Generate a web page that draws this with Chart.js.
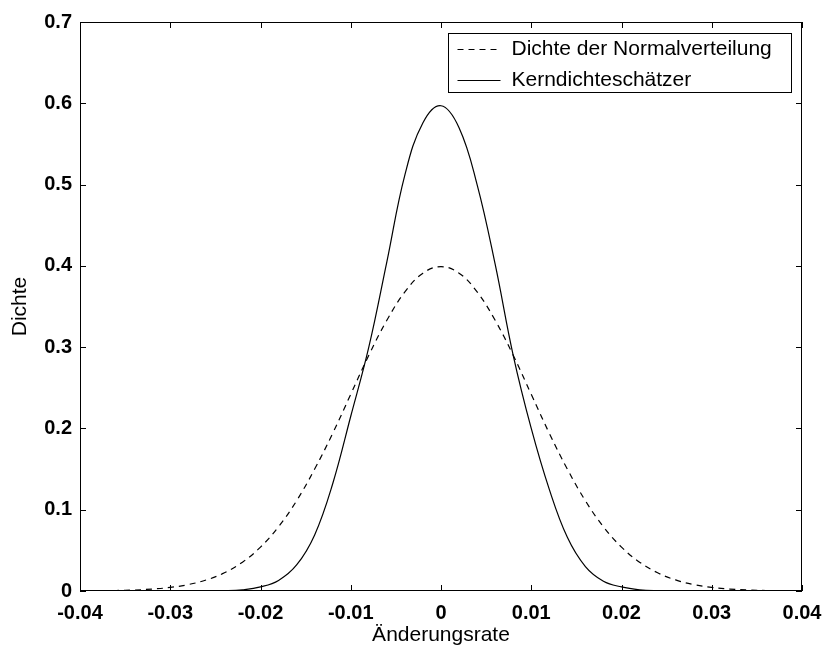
<!DOCTYPE html>
<html><head><meta charset="utf-8">
<script src="https://cdn.jsdelivr.net/npm/chart.js@4"></script>
<style>html,body{margin:0;padding:0;background:#fff}</style>
</head><body>
<canvas id="c" width="822" height="648"></canvas>
<script>
const xValues = [-0.040,-0.038,-0.036,-0.034,-0.032,-0.030,-0.028,-0.026,-0.024,-0.022,-0.020,-0.018,-0.016,-0.014,-0.012,-0.010,-0.008,-0.006,-0.004,-0.002,0,
  0.002,0.004,0.006,0.008,0.010,0.012,0.014,0.016,0.018,0.020,0.022,0.024,0.026,0.028,0.030,0.032,0.034,0.036,0.038,0.040];
const normalDensity = [0.0001,0.0003,0.0006,0.0012,0.0024,0.0044,0.0079,0.0136,0.0224,0.0355,0.054,0.079,0.111,0.150,0.194,0.242,0.290,0.333,0.368,0.391,0.399,
  0.391,0.368,0.333,0.290,0.242,0.194,0.150,0.111,0.079,0.054,0.0355,0.0224,0.0136,0.0079,0.0044,0.0024,0.0012,0.0006,0.0003,0.0001];
const kernelDensity = [0,0,0,0,0,0,0,0,0.0003,0.0015,0.005,0.013,0.032,0.069,0.132,0.215,0.300,0.405,0.512,0.576,0.597,
  0.570,0.500,0.402,0.290,0.200,0.125,0.066,0.030,0.012,0.005,0.0015,0.0003,0,0,0,0,0,0,0,0];
const xTickValues = [-0.04,-0.03,-0.02,-0.01,0,0.01,0.02,0.03,0.04];
const xTickLabels = ['-0.04','-0.03','-0.02','-0.01','0','0.01','0.02','0.03','0.04'];
const yTickValues = [0,0.1,0.2,0.3,0.4,0.5,0.6,0.7];
const yTickLabels = ['0','0.1','0.2','0.3','0.4','0.5','0.6','0.7'];
const seriesLabels = ['Dichte der Normalverteilung','Kerndichteschätzer'];
const axisTitles = {x:'Änderungsrate', y:'Dichte'};

const FONT = '"Liberation Sans", Arial, sans-serif';

const framePlugin = {
  id:'frame',
  afterDatasetsDraw(chart){
    const {ctx, chartArea:a, scales:{x,y}} = chart;
    ctx.save();
    ctx.strokeStyle='#000'; ctx.lineWidth=1; ctx.setLineDash([]);
    ctx.strokeRect(Math.round(a.left)+0.5, Math.round(a.top)+0.5, Math.round(a.right-a.left)-1, Math.round(a.bottom-a.top)-1);
    const L=6;
    ctx.beginPath();
    xTickValues.forEach(v=>{
      const px=Math.round(x.getPixelForValue(v))+0.5;
      ctx.moveTo(px,a.bottom); ctx.lineTo(px,a.bottom-L);
      ctx.moveTo(px,a.top); ctx.lineTo(px,a.top+L);
    });
    yTickValues.forEach(v=>{
      const py=Math.round(y.getPixelForValue(v))+0.5;
      ctx.moveTo(a.left,py); ctx.lineTo(a.left+L,py);
      ctx.moveTo(a.right,py); ctx.lineTo(a.right-L,py);
    });
    ctx.stroke();
    // legend
    const bw=343, bh=59;
    const bx=Math.round(a.right-11-bw)+0.5, by=Math.round(a.top+11)+0.5;
    ctx.fillStyle='#fff';
    ctx.fillRect(bx,by,bw,bh);
    ctx.strokeRect(bx,by,bw,bh);
    ctx.font='21px '+FONT;
    ctx.textBaseline='middle'; ctx.textAlign='left';
    ctx.fillStyle='#000';
    chart.data.datasets.forEach((ds,i)=>{
      const ry = by + 15 + i*31;
      ctx.beginPath();
      ctx.setLineDash(ds.borderDash||[]);
      ctx.moveTo(bx+9, Math.round(ry)+0.5); ctx.lineTo(bx+52, Math.round(ry)+0.5);
      ctx.stroke();
      ctx.setLineDash([]);
      ctx.fillText(ds.label, bx+63, ry+1);
    });
    ctx.restore();
  }
};

new Chart(document.getElementById('c'), {
  type:'line',
  data:{
    datasets:[
      {label:seriesLabels[0], data:xValues.map((v,i)=>({x:v,y:normalDensity[i]})), borderColor:'#000', borderWidth:1.2, borderDash:[6,5], pointRadius:0, tension:0.4, fill:false},
      {label:seriesLabels[1], data:xValues.map((v,i)=>({x:v,y:kernelDensity[i]})), borderColor:'#000', borderWidth:1.2, pointRadius:0, tension:0.4, fill:false}
    ]
  },
  options:{
    responsive:false, animation:false, devicePixelRatio:1,
    layout:{padding:{top:22,right:20,left:0,bottom:0}},
    plugins:{legend:{display:false}, tooltip:{enabled:false}},
    scales:{
      x:{type:'linear', min:-0.04, max:0.04,
        afterBuildTicks:s=>{s.ticks=xTickValues.map(v=>({value:v}));},
        afterFit:s=>{s.height=57; s.paddingLeft=0; s.paddingRight=0;},
        grid:{display:false, drawTicks:false}, border:{display:false},
        ticks:{padding:10, color:'#000', font:{family:FONT, size:20, weight:'bold'}, callback:(v,i)=>xTickLabels[i], maxRotation:0, autoSkip:false},
        title:{display:true, text:axisTitles.x, color:'#000', font:{family:FONT,size:21}, padding:{top:0,bottom:0}}
      },
      y:{type:'linear', min:0, max:0.7,
        afterBuildTicks:s=>{s.ticks=yTickValues.map(v=>({value:v}));},
        afterFit:s=>{s.width=80; s.paddingTop=0; s.paddingBottom=0;},
        grid:{display:false, drawTicks:false}, border:{display:false},
        ticks:{padding:8, color:'#000', font:{family:FONT, size:20, weight:'bold'}, callback:(v,i)=>yTickLabels[i], autoSkip:false},
        title:{display:true, text:axisTitles.y, color:'#000', font:{family:FONT,size:21}, padding:{top:8,bottom:0}}
      }
    }
  },
  plugins:[framePlugin]
});
</script>
</body></html>
